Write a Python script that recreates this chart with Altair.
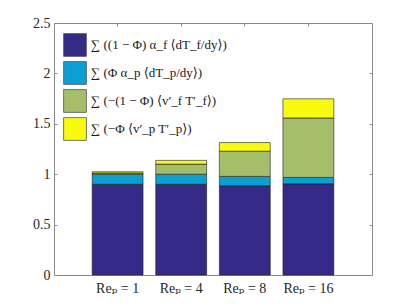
import altair as alt
import pandas as pd

categories = ["Reₚ = 1", "Reₚ = 4", "Reₚ = 8", "Reₚ = 16"]
series_names = [
    "∑ ((1 − Φ) α_f ⟨dT_f/dy⟩)",
    "∑ (Φ α_p ⟨dT_p/dy⟩)",
    "∑ (−(1 − Φ) ⟨v′_f T′_f⟩)",
    "∑ (−Φ ⟨v′_p T′_p⟩)",
]
blue_vals = [0.90, 0.90, 0.885, 0.905]
cyan_vals = [0.10, 0.10, 0.093, 0.063]
green_vals = [0.012, 0.10, 0.25, 0.59]
yellow_vals = [0.012, 0.037, 0.086, 0.19]
colors = ["#352A87", "#0C9FD4", "#A5BE6A", "#F8FA0F"]
y_ticks = [0, 0.5, 1, 1.5, 2, 2.5]

rows = []
for k, (name, vals) in enumerate(zip(series_names, [blue_vals, cyan_vals, green_vals, yellow_vals])):
    for c, v in zip(categories, vals):
        rows.append({"cat": c, "term": name, "value": v, "k": k})
df = pd.DataFrame(rows)

serif = "'Liberation Serif', 'DejaVu Serif', serif"
axis_gray = "#8c8c8c"

x_scale = alt.Scale(paddingInner=0.2, paddingOuter=0.6)
y_scale = alt.Scale(domain=[0, 2.5], nice=False)

bars = alt.Chart(df).mark_bar(stroke="#1e1e1e", strokeWidth=0.6).encode(
    x=alt.X("cat:N", sort=categories, scale=x_scale,
            axis=alt.Axis(title=None, labelAngle=0, domain=False, ticks=False,
                          labelFont=serif, labelFontSize=14, labelColor="#262626",
                          labelPadding=6)),
    y=alt.Y("value:Q", stack="zero", scale=y_scale,
            axis=alt.Axis(title=None, values=y_ticks, format="~g", domain=False,
                          grid=False, offset=-3, tickSize=3, tickColor=axis_gray,
                          labelFont=serif, labelFontSize=14, labelColor="#262626",
                          labelPadding=4)),
    color=alt.Color("term:N", sort=series_names,
                    scale=alt.Scale(domain=series_names, range=colors),
                    legend=alt.Legend(title=None, orient="none", legendX=9, legendY=10,
                                      symbolType="square", symbolSize=520,
                                      symbolStrokeColor="#555555", symbolStrokeWidth=0.8,
                                      symbolOpacity=1, labelFont=serif, labelFontSize=13,
                                      labelColor="#1a1a1a", labelLimit=300,
                                      rowPadding=0, padding=0, labelOffset=4)),
    order=alt.Order("k:Q", sort="ascending"),
)

frame = alt.Chart(df).mark_bar(opacity=0).encode(
    x=alt.X("cat:N", sort=categories, scale=x_scale,
            axis=alt.Axis(title=None, orient="top", labels=False, domain=False,
                          offset=-3, tickSize=3, tickColor=axis_gray)),
    y=alt.Y("value:Q", stack="zero", scale=y_scale,
            axis=alt.Axis(title=None, orient="right", labels=False, values=y_ticks,
                          domain=False, grid=False, offset=-3, tickSize=3,
                          tickColor=axis_gray)),
)

chart = alt.layer(bars, frame).resolve_axis(x="independent", y="independent").properties(
    width=318, height=252,
    autosize=alt.AutoSizeParams(type="none"),
    padding={"left": 46, "top": 15, "right": 25, "bottom": 30},
).configure_view(stroke=axis_gray, strokeWidth=1).configure_axis(grid=False)

chart.save("out.html", embed_options={"renderer": "svg", "actions": False})
